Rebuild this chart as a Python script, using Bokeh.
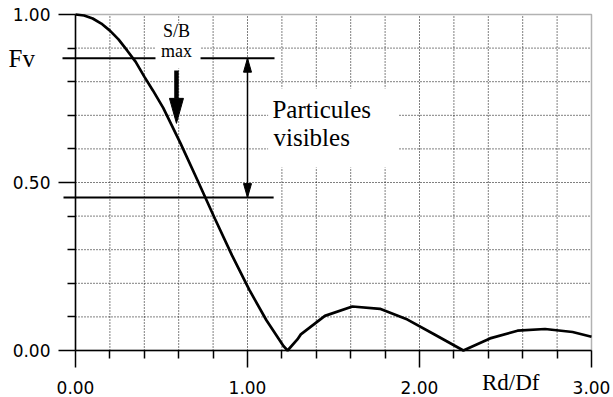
from bokeh.plotting import figure
from bokeh.models import Range1d, FixedTicker, PrintfTickFormatter, Label, BoxAnnotation, LinearAxis
from bokeh.embed import file_html
from bokeh.resources import INLINE

# ---- data ----
rd_df = [0.00, 0.05, 0.10, 0.15, 0.20, 0.25, 0.30, 0.35, 0.40, 0.45, 0.51, 0.61, 0.71,
         0.81, 0.91, 1.01, 1.11, 1.21, 1.233, 1.29, 1.31, 1.45, 1.61, 1.77, 1.93, 2.09,
         2.255, 2.41, 2.57, 2.73, 2.89, 3.00]
amplitude = [1.000, 0.997, 0.988, 0.973, 0.952, 0.926, 0.893, 0.859, 0.815, 0.774,
             0.722, 0.617, 0.506, 0.393, 0.283, 0.181, 0.090, 0.013, 0.000, 0.033,
             0.048, 0.103, 0.131, 0.124, 0.092, 0.047, 0.000, 0.036, 0.059, 0.064,
             0.055, 0.041]
x_major = [0, 1, 2, 3]
x_minor = [0.2, 0.4, 0.6, 0.8, 1.2, 1.4, 1.6, 1.8, 2.2, 2.4, 2.6, 2.8]
x_grid = [0.2, 0.4, 0.6, 0.8, 1.0, 1.2, 1.4, 1.6, 1.8, 2.0, 2.2, 2.4, 2.6, 2.8]
y_major = [0.0, 0.5, 1.0]
y_minor = [0.1, 0.2, 0.3, 0.4, 0.6, 0.7, 0.8, 0.9]
y_grid = [0.1, 0.2, 0.3, 0.4, 0.5, 0.6, 0.7, 0.8, 0.9]
fv_level = 0.87        # Fv
low_level = 0.455      # lower limit of visible particles
sb_max_x = 0.587       # S/B max position
sb_arrow_top = 0.833
sb_arrow_tip = 0.676

X0, X1, Y0, Y1 = 0.0, 3.0, 0.0, 1.0
W, H = 613, 397
FL, FT, FW, FH = 75, 14, 516, 336          # plot area inside the canvas (px)
sx = FW / (X1 - X0)   # px per x unit
sy = FH / (Y1 - Y0)   # px per y unit
LABEL_DY = 8 / sy     # baseline correction for labels

p = figure(width=W, height=H, output_backend="svg", toolbar_location=None,
           x_range=Range1d(X0 - FL / sx, X0 + (W - FL) / sx),
           y_range=Range1d(Y1 - (H - FT) / sy, Y1 + FT / sy),
           x_axis_location=None, y_axis_location=None, min_border=0)
p.background_fill_color = "white"
p.border_fill_color = "white"
p.outline_line_color = None
p.xgrid.visible = False
p.ygrid.visible = False

# dotted grid inside the plot area
p.segment(x0=x_grid, y0=[Y0] * len(x_grid), x1=x_grid, y1=[Y1] * len(x_grid),
          line_color="black", line_dash="1 2", line_width=1)
p.segment(x0=[X0] * len(y_grid), y0=y_grid, x1=[X1] * len(y_grid), y1=y_grid,
          line_color="black", line_dash="1 2", line_width=1)

# axes
xax = LinearAxis(fixed_location=Y0, bounds=(X0, X1),
                 ticker=FixedTicker(ticks=x_major, minor_ticks=x_minor))
yax = LinearAxis(fixed_location=X0, bounds=(Y0, Y1),
                 ticker=FixedTicker(ticks=y_major, minor_ticks=y_minor))
for ax in (xax, yax):
    ax.formatter = PrintfTickFormatter(format="%.2f")
    ax.axis_line_color = "black"
    ax.axis_line_width = 1.5
    ax.major_tick_line_color = "black"
    ax.major_tick_line_width = 1.5
    ax.minor_tick_line_color = "black"
    ax.minor_tick_line_width = 1.5
    ax.major_tick_in = 0
    ax.major_tick_out = 17
    ax.minor_tick_in = 0
    ax.minor_tick_out = 8
    ax.major_label_text_font = "DejaVu Sans"
    ax.major_label_text_font_size = "17px"
    ax.major_label_text_color = "black"
xax.major_label_standoff = 13
yax.major_label_standoff = 8
p.add_layout(xax, "below")
p.add_layout(yax, "left")

# curve
p.line(rd_df, amplitude, line_color="black", line_width=2.7)

# horizontal reference lines
p.line([X0 - 13 / sx, 1.157], [fv_level, fv_level], line_color="black", line_width=2)
p.line([X0 - 12 / sx, 1.152], [low_level, low_level], line_color="black", line_width=2)

# double arrow at Rd/Df = 1
p.line([1.0, 1.0], [fv_level, low_level], line_color="black", line_width=1.5)
hl, hw = 14 / sy, 4 / sx
p.patches([[1.0, 1.0 - hw, 1.0 + hw], [1.0, 1.0 - hw, 1.0 + hw]],
          [[fv_level, fv_level - hl, fv_level - hl], [low_level, low_level + hl, low_level + hl]],
          fill_color="black", line_color="black", line_width=1)

# thick arrow S/B max
tl, tw = 25 / sy, 7 / sx
p.line([sb_max_x, sb_max_x], [sb_arrow_top, sb_arrow_tip + tl], line_color="black", line_width=4.5)
p.patches([[sb_max_x, sb_max_x - tw, sb_max_x + tw]],
          [[sb_arrow_tip, sb_arrow_tip + tl, sb_arrow_tip + tl]],
          fill_color="black", line_color="black", line_width=1)

# white boxes behind texts
p.add_layout(BoxAnnotation(left=0.465, right=0.727, top=0.973, bottom=0.839,
                           fill_color="white", fill_alpha=1, line_color=None))
p.add_layout(BoxAnnotation(left=1.12, right=1.875, top=0.78, bottom=0.545,
                           fill_color="white", fill_alpha=1, line_color=None))
# top and right border of the plot area
p.add_layout(BoxAnnotation(left=X0, right=X1, top=Y1, bottom=Y0, fill_alpha=0,
                           line_color="black", line_width=1.5))

serif = "Liberation Serif"
def lab(x, y, t, size, align="left"):
    p.add_layout(Label(x=x, y=y + LABEL_DY, text=t, text_font=serif, text_font_size=size,
                       text_color="black", text_align=align, text_baseline="alphabetic"))

lab(sb_max_x, 0.926, "S/B", "18px", "center")
lab(sb_max_x, 0.869, "max", "18px", "center")
lab(1.145, 0.693, "Particules", "25px")
lab(1.151, 0.610, "visibles", "25px")
lab(X0 - 67 / sx, Y1 - (66 - FT) / sy, "Fv", "25px")
lab(2.53, Y0 - 40 / sy, "Rd/Df", "23px", "center")

open("out.html", "w").write(file_html(p, INLINE))
